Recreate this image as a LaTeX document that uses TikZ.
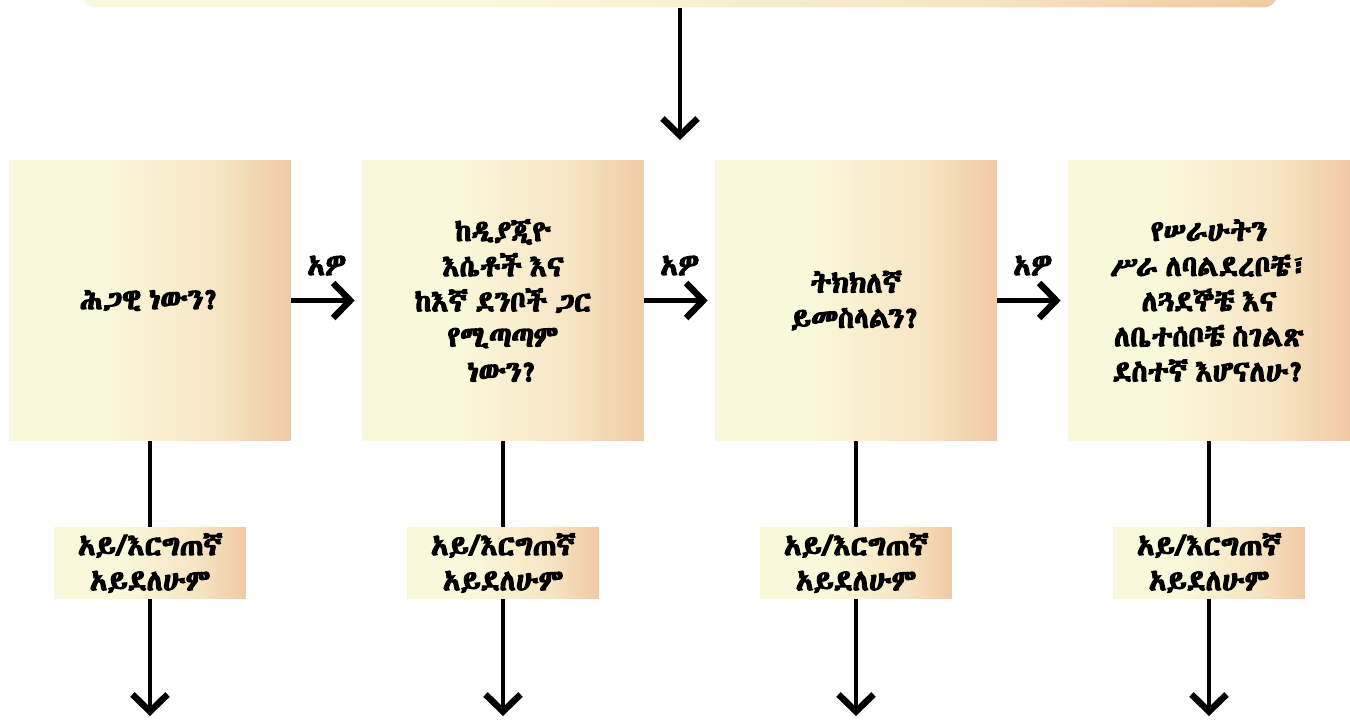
\documentclass[tikz,border=0pt]{standalone}
\usepackage{fontspec}
\usepackage{tikz}
\usetikzlibrary{arrows.meta}
\IfFontExistsTF{Abyssinica SIL}{%
  \newfontfamily\ethfont[Script=Ethiopic, AutoFakeBold=4, WordSpace=0.6]{Abyssinica SIL}}{%
  \IfFontExistsTF{FreeSerif}{%
    \newfontfamily\ethfont[Script=Ethiopic, AutoFakeBold=4, WordSpace=0.6]{FreeSerif}}{%
    \newfontfamily\ethfont{DejaVu Sans}}}
\definecolor{paleyel}{RGB}{250,248,218}
\definecolor{midpeach}{RGB}{246,229,196}
\definecolor{peach}{RGB}{241,202,163}
\pgfdeclarehorizontalshading{boxshade}{100bp}{color(0bp)=(paleyel); color(25bp)=(paleyel); color(42bp)=(paleyel); color(62bp)=(midpeach); color(75bp)=(peach); color(100bp)=(peach)}
\tikzset{
  qbox/.style={shading=boxshade, minimum width=5.64cm, minimum height=5.62cm, align=center, inner sep=0pt, font=\ethfont\bfseries\fontsize{16.5}{20}\selectfont},
  nobox/.style={shading=boxshade, minimum width=3.84cm, minimum height=1.42cm, align=center, inner sep=0pt, font=\ethfont\bfseries\fontsize{16.5}{20}\selectfont},
  banner/.style={shading=boxshade, rounded corners=0.3cm, minimum width=23.92cm, minimum height=0.9cm},
  arr/.style={line width=0.09cm, -{Straight Barb[length=0.34cm, width=0.7cm, line width=0.13cm, sharp]}},
  plain/.style={line width=0.09cm},
  yeslabel/.style={font=\ethfont\bfseries\fontsize{16.5}{20}\selectfont}
}

\begin{document}
\begin{tikzpicture}[x=0.02cm, y=-0.02cm]
			%%%%% START %%%%%
			\useasboundingbox (0,0) rectangle (1350,720);

			\node[banner] (top) at (680,-15) {};
			\coordinate (toptip) at (680,140);
			\draw[arr] (top.south) -- (toptip);

			\node[qbox] (q1) at (150,300.5) {ሕጋዊ ነውን?};
			\node[qbox] (q2) at (503,300.5) {ከዲያጂዮ\\እሴቶች እና\\ከእኛ ደንቦች ጋር\\የሚጣጣም\\ነውን?};
			\node[qbox] (q3) at (856,300.5) {ትክክለኛ\\ይመስላልን?};
			\node[qbox] (q4) at (1209,300.5) {የሠራሁትን\\ሥራ ለባልደረቦቼ፣\\ለጓደኞቼ እና\\ለቤተሰቦቼ ስገልጽ\\ደስተኛ እሆናለሁ?};

			\draw[arr, shorten >=0.14cm] (q1) -- node[yeslabel, midway, yshift=0.7cm] (y1) {አዎ} (q2);
			\draw[arr, shorten >=0.14cm] (q2) -- node[yeslabel, midway, yshift=0.7cm] (y2) {አዎ} (q3);
			\draw[arr, shorten >=0.14cm] (q3) -- node[yeslabel, midway, yshift=0.7cm] (y3) {አዎ} (q4);

			\node[nobox] (n1) at (150,563) {አይ/እርግጠኛ\\አይደለሁም};
			\node[nobox] (n2) at (503,563) {አይ/እርግጠኛ\\አይደለሁም};
			\node[nobox] (n3) at (856,563) {አይ/እርግጠኛ\\አይደለሁም};
			\node[nobox] (n4) at (1209,563) {አይ/እርግጠኛ\\አይደለሁም};

			\coordinate (d1) at (150,716);
			\coordinate (d2) at (503,716);
			\coordinate (d3) at (856,716);
			\coordinate (d4) at (1209,716);

			\draw[plain] (q1) -- (n1);
			\draw[arr] (n1) -- (d1);
			\draw[plain] (q2) -- (n2);
			\draw[arr] (n2) -- (d2);
			\draw[plain] (q3) -- (n3);
			\draw[arr] (n3) -- (d3);
			\draw[plain] (q4) -- (n4);
			\draw[arr] (n4) -- (d4);
			%%%%% END %%%%%
\end{tikzpicture}
\end{document}
